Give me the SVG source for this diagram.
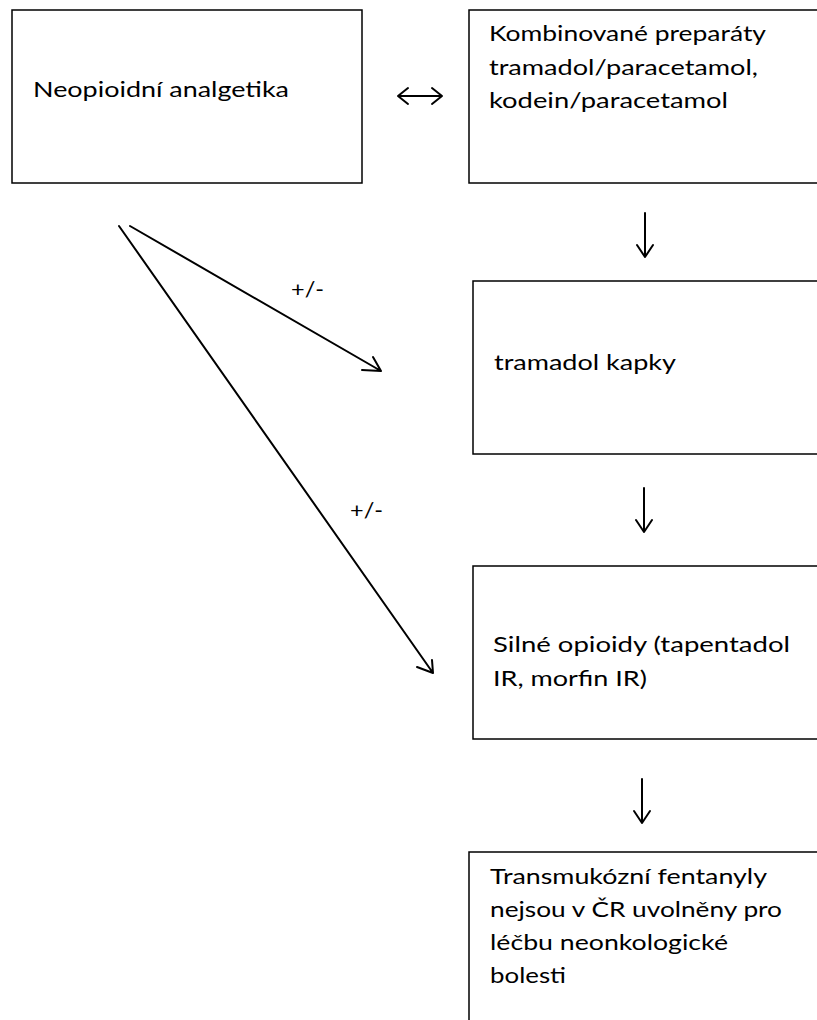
<svg xmlns="http://www.w3.org/2000/svg" width="817" height="1020" viewBox="0 0 817 1020">
<style>
.box{fill:#fff;stroke:#000;stroke-width:1.5}
.t{font-family:Lato,"Open Sans",sans-serif;font-size:22px;fill:#000}
.ln{fill:none;stroke:#000;stroke-width:2;stroke-linecap:round;stroke-linejoin:round}
</style>
<rect width="817" height="1020" fill="#fff"/>
<g id="n1"><rect class="box" x="12" y="10" width="350" height="173"/><text class="t" x="33" y="97" textLength="256" lengthAdjust="spacingAndGlyphs">Neopioidní analgetika</text></g>
<g id="n2"><rect class="box" x="469" y="10" width="360" height="173"/><text class="t" x="489" y="41" textLength="277" lengthAdjust="spacingAndGlyphs">Kombinované preparáty</text><text class="t" x="489" y="75" textLength="269" lengthAdjust="spacingAndGlyphs">tramadol/paracetamol,</text><text class="t" x="489" y="108" textLength="239" lengthAdjust="spacingAndGlyphs">kodein/paracetamol</text></g>
<g id="n3"><rect class="box" x="473" y="281" width="360" height="173"/><text class="t" x="494" y="370" textLength="182" lengthAdjust="spacingAndGlyphs">tramadol kapky</text></g>
<g id="n4"><rect class="box" x="473" y="566" width="360" height="173"/><text class="t" x="493" y="652" textLength="297" lengthAdjust="spacingAndGlyphs">Silné opioidy (tapentadol</text><text class="t" x="493" y="686" textLength="154" lengthAdjust="spacingAndGlyphs">IR, morfin IR)</text></g>
<g id="n5"><rect class="box" x="469" y="852" width="360" height="200"/><text class="t" x="490" y="884" textLength="277" lengthAdjust="spacingAndGlyphs">Transmukózní fentanyly</text><text class="t" x="490" y="917" textLength="292" lengthAdjust="spacingAndGlyphs">nejsou v ČR uvolněny pro</text><text class="t" x="490" y="950" textLength="238" lengthAdjust="spacingAndGlyphs">léčbu neonkologické</text><text class="t" x="490" y="983" textLength="76" lengthAdjust="spacingAndGlyphs">bolesti</text></g>
<g id="connectors">
<path class="ln" d="M399 96 H441 M408 88 L398 96 L408 104 M432 88 L442 96 L432 104"/>
<path class="ln" d="M645 213 V257 M637 245 L645 257 L653 245"/>
<path class="ln" d="M644 488 V532 M636 520 L644 532 L652 520"/>
<path class="ln" d="M642 779 V823 M634 811 L642 823 L650 811"/>
<path class="ln" d="M130 226 L381 371 M373 357 L381 371 L362 370"/>
<path class="ln" d="M119 226 L433 673 M432 660 L433 673 L417 667"/>
<text class="t" x="291" y="297" textLength="33" lengthAdjust="spacingAndGlyphs">+/-</text>
<text class="t" x="350" y="518" textLength="33" lengthAdjust="spacingAndGlyphs">+/-</text>
</g>
</svg>
